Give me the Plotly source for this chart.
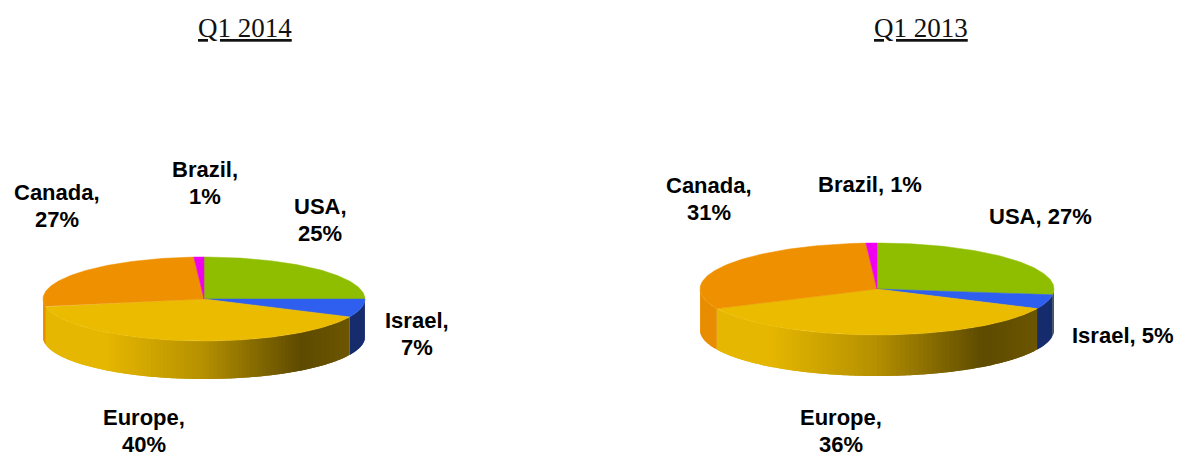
import numpy as np
import plotly.graph_objects as go

# Regional revenue split, clockwise from twelve o'clock
categories = ["USA", "Israel", "Europe", "Canada", "Brazil"]
values_2014 = [25, 7, 40, 27, 1]
values_2013 = [27, 5, 36, 31, 1]

# Slice colours, same order as the categories
top_colors = ["#8FBE00", "#2F5FEE", "#EBBB00", "#EE9000", "#F000F0"]

# Lighting across the rim, from left edge to right edge of a pie
SHADE_POS = [-1.0, -0.6, 0.0, 0.62, 0.92, 1.0]
SHADE_VAL = [0.98, 0.98, 0.78, 0.40, 0.46, 0.46]

FONT_SANS = "Liberation Sans, Arial, sans-serif"
FONT_SERIF = "Liberation Serif, Times New Roman, serif"


def darken(color, k):
    r, g, b = (int(color[i:i + 2], 16) for i in (1, 3, 5))
    return f"rgb({r * k:.0f},{g * k:.0f},{b * k:.0f})"


def add_pie(fig, values, cx, cy, rx, ry, depth):
    """Draw one tilted pie: rim strips first, then the top wedges."""
    edges = 360.0 * np.cumsum([0] + values) / sum(values)

    for color, a0, a1 in zip(top_colors, edges[:-1], edges[1:]):
        lo, hi = max(a0, 90.0), min(a1, 270.0)
        if hi <= lo:
            continue
        # Strips are painted one after another and each overlaps the
        # previous one, so no seam shows between them.
        steps = np.linspace(hi, lo, max(int((hi - lo) / 1.5), 1) + 1)
        for upper, lower in zip(steps[:-1], steps[1:]):
            middle = np.radians((upper + lower) / 2)
            shade = float(np.interp(np.sin(middle), SHADE_POS, SHADE_VAL))
            fill = darken(color, shade)
            t = np.radians(np.linspace(lower, min(upper + 1.5, hi), 4))
            x = cx + rx * np.sin(t)
            y = cy - ry * np.cos(t)
            fig.add_trace(go.Scatter(
                x=np.r_[x, x[::-1]], y=np.r_[y, y[::-1] + depth],
                mode="none", fill="toself", fillcolor=fill, hoverinfo="skip",
            ))

    for color, a0, a1 in zip(top_colors, edges[:-1], edges[1:]):
        t = np.radians(np.linspace(a0, a1, max(int(a1 - a0), 2) + 1))
        x = np.r_[cx, cx + rx * np.sin(t), cx]
        y = np.r_[cy, cy - ry * np.cos(t), cy]
        fig.add_trace(go.Scatter(
            x=x, y=y, mode="lines", fill="toself", fillcolor=color,
            line=dict(color=color, width=0.5), hoverinfo="skip",
        ))


def add_label(fig, lines, x, y, gap=26.5):
    """Bold callout, with one annotation per line for tight leading."""
    first = y - gap * (len(lines) - 1) / 2
    for i, text in enumerate(lines):
        fig.add_annotation(
            x=x, y=first + i * gap, xref="x", yref="y", text=f"<b>{text}</b>",
            showarrow=False, xanchor="center", yanchor="middle",
            font=dict(family=FONT_SANS, size=22, color="#000000"),
        )


def callout(values, name, x, y, wrap=True):
    pct = values[categories.index(name)]
    lines = [f"{name},", f"{pct}%"] if wrap else [f"{name}, {pct}%"]
    add_label(fig, lines, x, y)


fig = go.Figure()
add_pie(fig, values_2014, 204, 299, 161, 42, 38)
add_pie(fig, values_2013, 877, 289, 177, 46, 41)

callout(values_2014, "Brazil", 205, 183)
callout(values_2014, "Canada", 57, 206)
callout(values_2014, "USA", 320, 220)
callout(values_2014, "Israel", 417, 334)
callout(values_2014, "Europe", 144, 431)

callout(values_2013, "Canada", 709, 199)
callout(values_2013, "Brazil", 870, 184, wrap=False)
callout(values_2013, "USA", 1040, 216, wrap=False)
callout(values_2013, "Israel", 1123, 335, wrap=False)
callout(values_2013, "Europe", 841, 431)

for title, x in (("Q1 2014", 245), ("Q1 2013", 921)):
    fig.add_annotation(
        x=x, y=28, xref="x", yref="y", text=f"<u>{title}</u>",
        showarrow=False, xanchor="center", yanchor="middle",
        font=dict(family=FONT_SERIF, size=27, color="#111111"),
    )

fig.update_layout(
    width=1180, height=456, autosize=False,
    margin=dict(l=0, r=0, t=0, b=0),
    paper_bgcolor="white", plot_bgcolor="white",
    showlegend=False, hovermode=False,
    xaxis=dict(range=[0, 1180], visible=False, fixedrange=True),
    yaxis=dict(range=[456, 0], visible=False, fixedrange=True),
)
fig.write_html("out.html", config={"displayModeBar": False})
